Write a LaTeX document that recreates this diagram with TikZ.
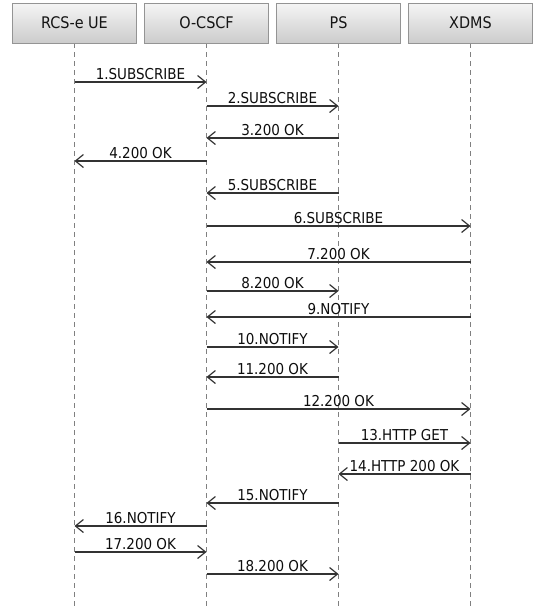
\documentclass[tikz,border=0pt]{standalone}
\usepackage{fontspec}
\setmainfont{DejaVu Sans Condensed}
\usetikzlibrary{arrows.meta}

\begin{document}
\begin{tikzpicture}[x=1pt,y=-1pt,
    actor/.style={draw=black!42,top color=black!4,bottom color=black!20,
      minimum width=124pt,minimum height=40pt,inner sep=0pt,
      font=\fontsize{16}{18}\selectfont,text=black!92},
    life/.style={draw=black!50,line width=0.9pt,dash pattern=on 5pt off 4pt},
    msg/.style={draw=black!80,line width=1.2pt,-{Straight Barb[length=8pt,width=13pt]}},
    lbl/.style={anchor=base,yshift=3pt,inner sep=0pt,
      font=\fontsize{15}{17}\selectfont,text=black!95}]
  \useasboundingbox (0,0) rectangle (535,606);
  % actors and their lifelines
  \foreach \name/\txt [count=\i] in {ue/RCS-e UE,cscf/O-CSCF,ps/PS,xdms/XDMS}{
    \coordinate (\name-end) at ({74.5+132*(\i-1)},606);
    \draw[life] ({74.5+132*(\i-1)},43) -- (\name-end);
    \node[actor] (\name) at ({74.5+132*(\i-1)},23) {\txt};
  }
  % messages: from/to/row/label
  \foreach \from/\to/\y/\txt in {
      ue/cscf/82/1.SUBSCRIBE,
      cscf/ps/106/2.SUBSCRIBE,
      ps/cscf/138/3.200 OK,
      cscf/ue/161/4.200 OK,
      ps/cscf/193/5.SUBSCRIBE,
      cscf/xdms/226/6.SUBSCRIBE,
      xdms/cscf/262/7.200 OK,
      cscf/ps/291/8.200 OK,
      xdms/cscf/317/9.NOTIFY,
      cscf/ps/347/10.NOTIFY,
      ps/cscf/377/11.200 OK,
      cscf/xdms/409/12.200 OK,
      ps/xdms/443/13.HTTP GET,
      xdms/ps/474/14.HTTP 200 OK,
      ps/cscf/503/15.NOTIFY,
      cscf/ue/526/16.NOTIFY,
      ue/cscf/552/17.200 OK,
      cscf/ps/574/18.200 OK}{
    \draw[msg] (\from |- 0,\y) -- node[lbl] {\txt} (\to |- 0,\y);
  }
\end{tikzpicture}
\end{document}
